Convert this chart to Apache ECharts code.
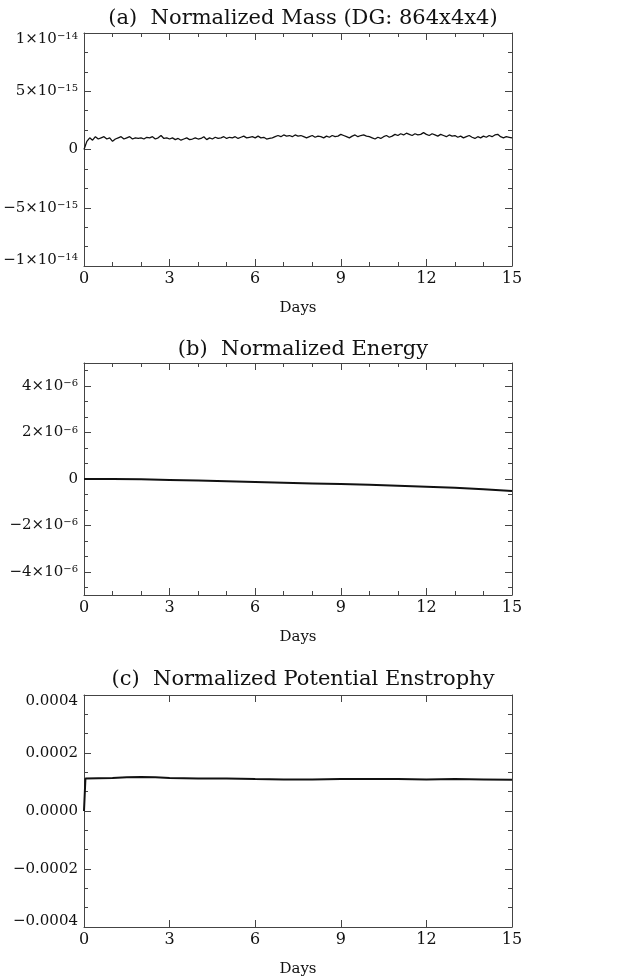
<!DOCTYPE html>
<html>
<head>
<meta charset="utf-8">
<script src="https://cdn.jsdelivr.net/npm/echarts@6/dist/echarts.min.js"></script>
<style>
  html, body { margin: 0; padding: 0; background: #fff; }
  #chart { width: 618px; height: 980px; }
</style>
</head>
<body>
<div id="chart"></div>
<script>
// (a) normalized mass, units of 1e-15, sampled every 0.1 day
const massValues = [
  0.0, 0.7, 1.0, 0.8, 1.1, 0.9, 1.0, 1.1, 0.9, 1.0,
  0.7, 0.9, 1.0, 1.1, 0.9, 1.0, 1.1, 0.9, 1.0, 0.95,
  1.0, 0.9, 1.05, 1.0, 1.1, 0.9, 1.0, 1.2, 0.95, 1.0,
  0.9, 1.0, 0.85, 0.95, 0.8, 0.9, 1.0, 0.85, 0.9, 1.0,
  0.9, 0.95, 1.1, 0.85, 1.0, 0.9, 1.05, 0.95, 1.0, 1.1,
  0.95, 1.05, 1.0, 1.1, 0.95, 1.05, 1.15, 1.0, 1.05, 1.1,
  1.0, 1.15, 1.0, 1.05, 0.9, 0.95, 1.0, 1.1, 1.2, 1.1,
  1.25, 1.15, 1.2, 1.1, 1.25, 1.15, 1.2, 1.1, 1.0, 1.1,
  1.2, 1.05, 1.15, 1.1, 1.0, 1.15, 1.05, 1.2, 1.1, 1.15,
  1.3, 1.2, 1.1, 1.0, 1.15, 1.25, 1.1, 1.2, 1.25, 1.15,
  1.1, 1.0, 0.9, 1.05, 0.95, 1.1, 1.2, 1.05, 1.15, 1.3,
  1.2, 1.35, 1.25, 1.4, 1.3, 1.2, 1.35, 1.25, 1.3, 1.45,
  1.3, 1.2, 1.35, 1.25, 1.15, 1.3, 1.2, 1.1, 1.25, 1.15,
  1.2, 1.05, 1.15, 1.0, 1.1, 1.2, 1.05, 0.95, 1.1, 1.0,
  1.15, 1.05, 1.2, 1.1, 1.25, 1.3, 1.1, 1.0, 1.1, 1.05,
  1.0
];
const massDays = massValues.map((_, i) => i / 10);

// (b) normalized energy, units of 1e-6
const energyDays = [0, 1, 2, 3, 4, 5, 6, 7, 8, 9, 10, 11, 12, 13, 14, 15];
const energyValues = [0, 0, -0.01, -0.04, -0.07, -0.10, -0.13, -0.16, -0.19, -0.22, -0.25, -0.29, -0.33, -0.38, -0.44, -0.52];

// (c) normalized potential enstrophy, units of 1e-4
const enstDays = [0, 0.05, 0.5, 1, 1.5, 2, 2.5, 3, 4, 5, 6, 7, 8, 9, 10, 11, 12, 13, 14, 15];
const enstValues = [0, 1.12, 1.13, 1.14, 1.16, 1.17, 1.16, 1.14, 1.12, 1.12, 1.10, 1.09, 1.09, 1.10, 1.10, 1.10, 1.09, 1.10, 1.09, 1.08];

// tick values and labels
const massTicks = [-1e-14, -5e-15, 0, 5e-15, 1e-14];
const massTickLabels = [['−1×10', '−14'], ['−5×10', '−15'], ['0', ''], ['5×10', '−15'], ['1×10', '−14']];
const energyTicks = [-4e-6, -2e-6, 0, 2e-6, 4e-6];
const energyTickLabels = [['−4×10', '−6'], ['−2×10', '−6'], ['0', ''], ['2×10', '−6'], ['4×10', '−6']];
const enstTicks = [-4e-4, -2e-4, 0, 2e-4, 4e-4];
const enstTickLabels = [['−0.0004', ''], ['−0.0002', ''], ['0.0000', ''], ['0.0002', ''], ['0.0004', '']];
const dayTicks = [0, 3, 6, 9, 12, 15];

const titles = ['(a)  Normalized Mass (DG: 864x4x4)', '(b)  Normalized Energy', '(c)  Normalized Potential Enstrophy'];

const FONT = 'DejaVu Serif';
const AXIS_COLOR = '#444';

const chart = echarts.init(document.getElementById('chart'));

function minorsOf(ticks, yMin, yMax) {
  const step = (ticks[1] - ticks[0]) / 3;
  const out = [];
  for (let k = -30; k <= 30; k++) {
    if (k % 3 === 0) continue;
    const v = k * step;
    if (v > yMin - step * 1e-6 && v < yMax + step * 1e-6) out.push(v);
  }
  return out;
}

const rich = {
  m: { fontFamily: FONT, fontSize: 15, color: '#111' },
  e: { fontFamily: FONT, fontSize: 10, color: '#111', verticalAlign: 'top' },
  mT: { fontFamily: FONT, fontSize: 15, color: '#111', padding: [12, 0, 0, 0] },
  eT: { fontFamily: FONT, fontSize: 10, color: '#111', verticalAlign: 'top', padding: [12, 0, 0, 0] },
  mB: { fontFamily: FONT, fontSize: 15, color: '#111', padding: [0, 0, 12, 0] },
  eB: { fontFamily: FONT, fontSize: 10, color: '#111', verticalAlign: 'top' }
};

function labeler(ticks, labels, yMin, yMax) {
  return function (value) {
    let idx = 0, best = Infinity;
    ticks.forEach((t, i) => {
      const d = Math.abs(t - value);
      if (d < best) { best = d; idx = i; }
    });
    const span = yMax - yMin;
    let s = '';
    if (Math.abs(ticks[idx] - yMax) < span * 1e-6) s = 'T';
    else if (Math.abs(ticks[idx] - yMin) < span * 1e-6) s = 'B';
    const [m, e] = labels[idx];
    return e ? `{m${s}|${m}}{e${s}|${e}}` : `{m${s}|${m}}`;
  };
}

const grids = [
  { left: 84, top: 33, width: 428, height: 233, outerBoundsMode: 'none' },
  { left: 84, top: 363, width: 428, height: 232, outerBoundsMode: 'none' },
  { left: 84, top: 695, width: 428, height: 232, outerBoundsMode: 'none' }
];

const panels = [
  { yMin: -1e-14, yMax: 1e-14, ticks: massTicks, labels: massTickLabels, xMinor: true },
  { yMin: -5e-6, yMax: 5e-6, ticks: energyTicks, labels: energyTickLabels, xMinor: true },
  { yMin: -4e-4, yMax: 4e-4, ticks: enstTicks, labels: enstTickLabels, xMinor: false }
];

const lineStyle = { color: AXIS_COLOR, width: 1 };
const xAxes = [];
const yAxes = [];

panels.forEach((p, g) => {
  const xBase = {
    gridIndex: g, type: 'value', min: 0, max: 15, interval: 3,
    axisLine: { show: true, onZero: false, lineStyle },
    axisTick: { show: true, inside: true, length: 7, lineStyle },
    minorTick: { show: p.xMinor, splitNumber: 3, length: 4, lineStyle },
    splitLine: { show: false }
  };
  xAxes.push(Object.assign({}, xBase, {
    position: 'bottom',
    axisLabel: { show: true, margin: 5, fontFamily: FONT, fontSize: 16, color: '#111',
      customValues: dayTicks, formatter: v => String(v) },
    name: 'Days', nameLocation: 'middle', nameGap: 35,
    nameTextStyle: { fontFamily: FONT, fontSize: 15, color: '#111' }
  }));
  xAxes.push(Object.assign({}, xBase, { position: 'top', axisLabel: { show: false } }));

  const minors = minorsOf(p.ticks, p.yMin, p.yMax);
  const yBase = { gridIndex: g, type: 'value', min: p.yMin, max: p.yMax, splitLine: { show: false } };
  ['left', 'right'].forEach(side => {
    yAxes.push(Object.assign({}, yBase, {
      position: side,
      axisLine: { show: true, onZero: false, lineStyle },
      axisTick: { show: true, inside: true, length: 7, lineStyle, customValues: p.ticks },
      axisLabel: side === 'left' ? {
        show: true, margin: 6, customValues: p.ticks,
        formatter: labeler(p.ticks, p.labels, p.yMin, p.yMax), rich
      } : { show: false }
    }));
    yAxes.push(Object.assign({}, yBase, {
      position: side,
      axisLine: { show: false, onZero: false },
      axisTick: { show: true, inside: true, length: 4, lineStyle, customValues: minors },
      axisLabel: { show: false }
    }));
  });
});

const seriesData = [
  massDays.map((d, i) => [d, massValues[i] * 1e-15]),
  energyDays.map((d, i) => [d, energyValues[i] * 1e-6]),
  enstDays.map((d, i) => [d, enstValues[i] * 1e-4])
];
const lineWidths = [1.3, 2, 2];

chart.setOption({
  animation: false,
  backgroundColor: '#fff',
  title: titles.map((t, i) => ({
    text: t,
    left: 298,
    textAlign: 'center',
    top: [3, 334, 664][i],
    textStyle: { fontFamily: FONT, fontSize: 21, fontWeight: 'normal', color: '#111' }
  })),
  grid: grids,
  xAxis: xAxes,
  yAxis: yAxes,
  series: seriesData.map((data, i) => ({
    type: 'line',
    xAxisIndex: i * 2,
    yAxisIndex: i * 4,
    data,
    showSymbol: false,
    symbol: 'none',
    lineStyle: { color: '#111', width: lineWidths[i] }
  }))
});
</script>
</body>
</html>
